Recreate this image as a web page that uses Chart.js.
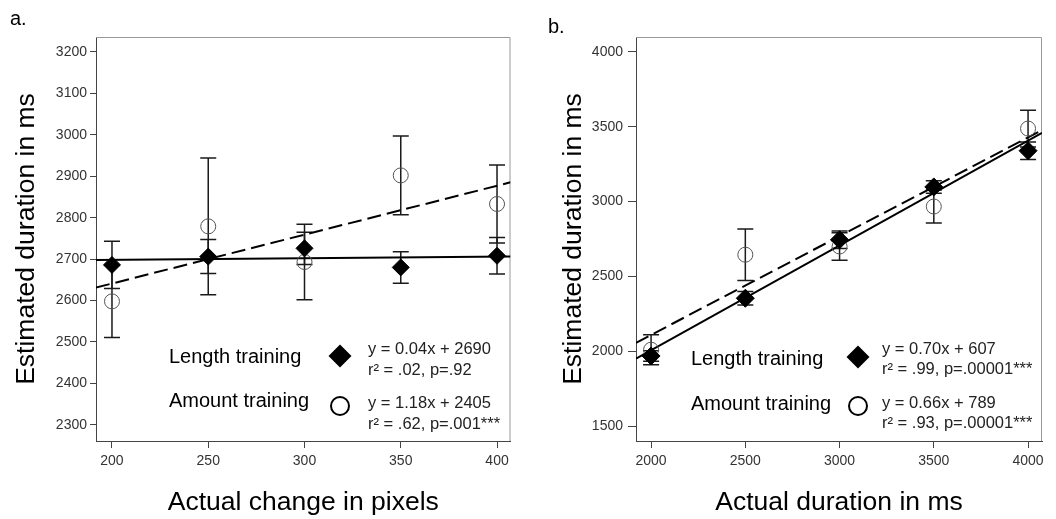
<!DOCTYPE html>
<html>
<head>
<meta charset="utf-8">
<script src="https://cdn.jsdelivr.net/npm/chart.js@4.4.1/dist/chart.umd.min.js"></script>
<style>
  body { margin: 0; background: #fff; }
  .panel { position: absolute; top: 0; height: 519px; }
  #panelA { left: 0; width: 520px; }
  #panelB { left: 520px; width: 536px; }
</style>
</head>
<body>
<div class="panel" id="panelA"><canvas id="chartA"></canvas></div>
<div class="panel" id="panelB"><canvas id="chartB"></canvas></div>
<script>
// a. change in pixels
const pixelChange = [200, 250, 300, 350, 400];
const lengthMeansA = [2686, 2706, 2726, 2680, 2708];
const lengthErrA = [57, 41, 39, 38, 44];
const amountMeansA = [2598, 2779, 2693, 2902, 2833];
const amountErrA = [87, 165, 91, 95, 94];
const lengthFitA = [0.04, 2690];   // slope, intercept
const amountFitA = [1.18, 2405];
const xTicksA = [200, 250, 300, 350, 400];
const yTicksA = [2300, 2400, 2500, 2600, 2700, 2800, 2900, 3000, 3100, 3200];
const statsA = [
  ['y = 0.04x + 2690', 'r² = .02, p=.92'],
  ['y = 1.18x + 2405', 'r² = .62, p=.001***']
];

// b. duration in ms
const durations = [2000, 2500, 3000, 3500, 4000];
const lengthMeansB = [1968, 2354, 2745, 3098, 3340];
const lengthErrB = [35, 45, 59, 42, 58];
const amountMeansB = [2010, 2645, 2700, 2967, 3488];
const amountErrB = [100, 172, 92, 110, 123];
const lengthFitB = [0.70, 607];
const amountFitB = [0.66, 789];
const xTicksB = [2000, 2500, 3000, 3500, 4000];
const yTicksB = [1500, 2000, 2500, 3000, 3500, 4000];
const statsB = [
  ['y = 0.70x + 607', 'r² = .99, p=.00001***'],
  ['y = 0.66x + 789', 'r² = .93, p=.00001***']
];

const groupNames = ['Length training', 'Amount training'];

const FONT = '"Liberation Sans", Arial, sans-serif';

// error bars, box outline, in-plot key and panel letter
const figurePlugin = {
  id: 'figure',
  beforeDatasetsDraw(chart) {
    const ctx = chart.ctx;
    const a = chart.chartArea;
    const y = chart.scales.y;
    ctx.save();
    ctx.strokeStyle = '#999';
    ctx.lineWidth = 1;
    ctx.beginPath();
    ctx.moveTo(a.left, a.top + 0.5);
    ctx.lineTo(a.right - 0.5, a.top + 0.5);
    ctx.lineTo(a.right - 0.5, a.bottom);
    ctx.stroke();

    ctx.strokeStyle = '#1a1a1a';
    ctx.lineWidth = 1.5;
    chart.data.datasets.forEach((ds, i) => {
      if (!ds.errors) return;
      const meta = chart.getDatasetMeta(i);
      meta.data.forEach((pt, j) => {
        const v = ds.data[j].y;
        const e = ds.errors[j];
        const top = y.getPixelForValue(v + e);
        const bot = y.getPixelForValue(v - e);
        ctx.beginPath();
        ctx.moveTo(pt.x, top);
        ctx.lineTo(pt.x, bot);
        ctx.moveTo(pt.x - 8, top);
        ctx.lineTo(pt.x + 8, top);
        ctx.moveTo(pt.x - 8, bot);
        ctx.lineTo(pt.x + 8, bot);
        ctx.stroke();
      });
    });
    ctx.restore();
  },
  afterDraw(chart, args, opts) {
    const ctx = chart.ctx;
    const a = chart.chartArea;
    ctx.save();
    ctx.fillStyle = '#000';
    ctx.font = '20px ' + FONT;
    ctx.textBaseline = 'alphabetic';
    ctx.fillText(opts.letter, opts.letterX, opts.letterY);

    opts.rows.forEach((row, i) => {
      const my = a.bottom + row.markerY;
      const mx = a.left + opts.markerX;
      ctx.font = '20px ' + FONT;
      ctx.fillStyle = '#000';
      ctx.fillText(groupNames[i], a.left + opts.textX, a.bottom + row.textY);

      ctx.beginPath();
      if (i === 0) {
        const r = 11.5;
        ctx.moveTo(mx, my - r);
        ctx.lineTo(mx + r, my);
        ctx.lineTo(mx, my + r);
        ctx.lineTo(mx - r, my);
        ctx.closePath();
        ctx.fill();
      } else {
        ctx.arc(mx, my, 9, 0, Math.PI * 2);
        ctx.lineWidth = 2;
        ctx.strokeStyle = '#000';
        ctx.stroke();
      }

      ctx.font = '16.5px ' + FONT;
      ctx.fillStyle = '#222';
      ctx.fillText(opts.stats[i][0], a.left + opts.statsX, a.bottom + row.eqY[0]);
      ctx.fillText(opts.stats[i][1], a.left + opts.statsX, a.bottom + row.eqY[1]);
    });
    ctx.restore();
  }
};

function makePanel(id, p) {
  const toPoints = (xs, ys) => xs.map((x, i) => ({ x: x, y: ys[i] }));
  const fitLine = (fit) => [p.xMin, p.xMax].map(x => ({ x: x, y: fit[0] * x + fit[1] }));
  const plain = v => String(v);

  return new Chart(document.getElementById(id), {
    type: 'scatter',
    data: {
      datasets: [
        {
          data: toPoints(p.xs, p.lengthMeans),
          errors: p.lengthErr,
          pointStyle: 'rectRot',
          pointRadius: p.diamond,
          backgroundColor: '#000',
          borderColor: '#000',
          borderWidth: 1
        },
        {
          data: toPoints(p.xs, p.amountMeans),
          errors: p.amountErr,
          pointStyle: 'circle',
          pointRadius: 7.5,
          backgroundColor: 'rgba(0,0,0,0)',
          borderColor: '#555',
          borderWidth: 1
        },
        {
          data: fitLine(p.lengthFit),
          showLine: true,
          pointRadius: 0,
          borderColor: '#000',
          borderWidth: 2
        },
        {
          data: fitLine(p.amountFit),
          showLine: true,
          pointRadius: 0,
          borderColor: '#000',
          borderWidth: 2,
          borderDash: [14, 6]
        }
      ]
    },
    options: {
      responsive: true,
      maintainAspectRatio: false,
      animation: false,
      events: [],
      layout: { padding: { top: 37, right: p.padRight, left: 0, bottom: 0 } },
      scales: {
        x: {
          type: 'linear',
          min: p.xMin,
          max: p.xMax,
          afterBuildTicks: s => { s.ticks = p.xTicks.map(v => ({ value: v })); },
          afterFit: s => { s.height = 78; },
          ticks: { font: { family: FONT, size: 14 }, color: '#333', padding: 5, maxRotation: 0, callback: plain },
          grid: { drawOnChartArea: false, tickLength: 7, color: '#444' },
          border: { color: '#444', width: 1 },
          title: {
            display: true, text: p.xTitle, color: '#000',
            font: { family: FONT, size: 26.5, lineHeight: 1.2 },
            padding: { top: 0, bottom: 0 }
          }
        },
        y: {
          type: 'linear',
          min: p.yMin,
          max: p.yMax,
          afterBuildTicks: s => { s.ticks = p.yTicks.map(v => ({ value: v })); },
          afterFit: s => { s.width = p.yWidth; },
          ticks: { font: { family: FONT, size: 14 }, color: '#333', padding: p.yPad, callback: plain },
          grid: { drawOnChartArea: false, tickLength: p.yTick, color: '#444' },
          border: { color: '#444', width: 1 },
          title: {
            display: true, text: 'Estimated duration in ms', color: '#000',
            font: { family: FONT, size: 26.5, lineHeight: 1.2 },
            padding: { top: p.yTitlePad, bottom: 0 }
          }
        }
      },
      plugins: {
        legend: { display: false },
        tooltip: { enabled: false },
        figure: {
          letter: p.letter, letterX: p.letterX, letterY: p.letterY,
          textX: p.textX, markerX: p.markerX, statsX: p.statsX,
          stats: p.stats, rows: p.rows
        }
      }
    },
    plugins: [figurePlugin]
  });
}

makePanel('chartA', {
  xs: pixelChange, lengthMeans: lengthMeansA, lengthErr: lengthErrA,
  amountMeans: amountMeansA, amountErr: amountErrA,
  lengthFit: lengthFitA, amountFit: amountFitA,
  xMin: 191.7, xMax: 407, yMin: 2261, yMax: 3236,
  xTicks: xTicksA, yTicks: yTicksA,
  xTitle: 'Actual change in pixels',
  diamond: 8.5, padRight: 7, yWidth: 96, yPad: 3, yTick: 6, yTitlePad: 11,
  letter: 'a.', letterX: 10, letterY: 25,
  textX: 73, markerX: 244, statsX: 272, stats: statsA,
  rows: [
    { markerY: -85, textY: -78, eqY: [-87, -66.5] },
    { markerY: -35, textY: -34, eqY: [-33, -12.5] }
  ]
});

makePanel('chartB', {
  xs: durations, lengthMeans: lengthMeansB, lengthErr: lengthErrB,
  amountMeans: amountMeansB, amountErr: amountErrB,
  lengthFit: lengthFitB, amountFit: amountFitB,
  xMin: 1920, xMax: 4074, yMin: 1400, yMax: 4100,
  xTicks: xTicksB, yTicks: yTicksB,
  xTitle: 'Actual duration in ms',
  diamond: 9, padRight: 14, yWidth: 116, yPad: 5, yTick: 8, yTitlePad: 38,
  letter: 'b.', letterX: 28, letterY: 33,
  textX: 55, markerX: 222, statsX: 246, stats: statsB,
  rows: [
    { markerY: -84, textY: -76, eqY: [-87.3, -67.5] },
    { markerY: -35, textY: -31, eqY: [-33, -13] }
  ]
});
</script>
</body>
</html>
